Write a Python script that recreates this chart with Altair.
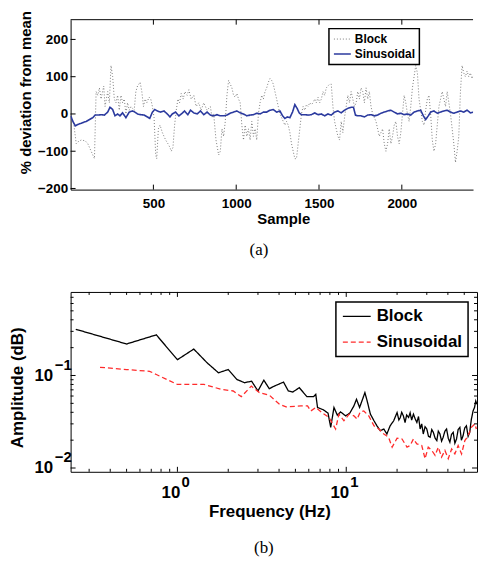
import altair as alt
import pandas as pd

# ---------------- data: panel (a) ----------------
block_a = [(0,0),(20,-30),(34,-80),(44,-75),(64,-70),(88,-72),(104,-80),(124,-100),(144,-120),(154,60),(164,50),(174,70),(184,40),(200,75),(208,20),(224,60),(234,30),(244,130),(254,100),(264,40),(274,30),(284,50),(294,10),(304,50),(314,30),(324,40),(334,0),(344,30),(354,10),(364,20),(384,10),(394,60),(404,75),(420,85),(430,60),(440,20),(450,40),(460,30),(474,45),(484,40),(494,20),(504,-10),(514,-110),(520,-120),(530,-40),(540,-30),(554,-50),(564,-60),(574,-70),(588,-80),(600,-90),(608,-100),(618,-90),(628,-30),(638,10),(648,40),(658,30),(668,55),(680,40),(690,60),(704,50),(714,65),(728,40),(744,50),(758,20),(774,30),(788,10),(804,30),(824,10),(844,20),(854,-10),(864,0),(878,-70),(894,-110),(904,-100),(914,-40),(924,-60),(934,-20),(944,50),(954,90),(964,80),(974,70),(984,50),(994,45),(1004,55),(1014,40),(1024,30),(1034,-30),(1044,-70),(1054,-30),(1064,-60),(1074,-40),(1084,-70),(1094,-20),(1104,-60),(1114,-40),(1124,-70),(1134,0),(1144,30),(1154,50),(1164,40),(1174,60),(1184,70),(1194,85),(1204,95),(1214,90),(1224,80),(1234,60),(1244,40),(1254,20),(1264,0),(1274,-10),(1284,-20),(1294,-30),(1304,-20),(1314,-30),(1324,-50),(1334,-80),(1344,-100),(1354,-120),(1364,-120),(1374,-80),(1384,-40),(1394,0),(1404,20),(1414,10),(1424,25),(1434,20),(1444,30),(1454,25),(1464,30),(1474,40),(1484,30),(1494,45),(1504,30),(1514,40),(1524,60),(1534,50),(1544,70),(1564,80),(1574,80),(1584,20),(1594,-20),(1604,-40),(1614,-60),(1624,-70),(1634,-20),(1644,-50),(1654,-10),(1664,20),(1674,50),(1684,30),(1694,60),(1704,40),(1714,20),(1724,30),(1734,60),(1744,40),(1754,70),(1764,60),(1774,30),(1784,70),(1794,40),(1804,60),(1814,20),(1824,0),(1844,-20),(1854,-40),(1864,-60),(1884,-40),(1894,-80),(1904,-100),(1914,-80),(1924,-40),(1934,-80),(1944,-60),(1954,-30),(1964,-20),(1974,-60),(1984,-80),(1994,-50),(2004,0),(2014,50),(2024,30),(2034,0),(2044,-20),(2054,20),(2064,70),(2074,100),(2084,130),(2094,110),(2104,40),(2114,10),(2124,-20),(2134,-30),(2144,10),(2154,40),(2164,50),(2174,0),(2184,-70),(2194,-100),(2204,-80),(2214,-30),(2224,20),(2234,40),(2244,60),(2254,40),(2264,20),(2274,60),(2284,30),(2294,0),(2304,-40),(2314,-80),(2324,-130),(2334,-100),(2344,-60),(2354,60),(2364,130),(2374,110),(2384,100),(2394,115),(2404,100),(2414,110),(2424,95),(2434,105),(2444,90),(2454,100),(2464,80),(2474,75)]

sin_a = [(0,-5),(14,-20),(28,-32),(44,-28),(64,-25),(80,-22),(94,-20),(114,-15),(134,-10),(148,-3),(164,-3),(184,-2),(204,-3),(224,5),(238,18),(254,12),(268,-5),(284,0),(298,-5),(314,3),(334,-10),(354,5),(374,8),(388,5),(404,0),(424,-2),(444,-3),(464,-8),(478,-12),(494,5),(508,12),(524,8),(544,5),(564,8),(584,0),(600,-8),(614,0),(634,5),(654,-5),(674,2),(688,8),(708,-2),(724,10),(744,3),(764,0),(784,8),(804,-2),(824,5),(844,-3),(864,-5),(884,-2),(904,-5),(924,-5),(944,-3),(964,2),(984,5),(1004,8),(1024,3),(1044,0),(1064,-5),(1084,-3),(1104,-2),(1124,2),(1144,0),(1164,5),(1184,5),(1204,10),(1224,12),(1244,5),(1264,8),(1280,-5),(1294,-12),(1308,-8),(1324,-10),(1340,5),(1354,25),(1368,15),(1380,3),(1394,-2),(1414,-2),(1434,-3),(1454,-2),(1474,3),(1494,-2),(1514,0),(1534,-5),(1554,0),(1574,-3),(1594,5),(1614,8),(1634,3),(1654,10),(1674,15),(1694,18),(1708,18),(1720,-3),(1734,-5),(1754,-5),(1774,-8),(1794,-3),(1814,-2),(1834,-5),(1854,-3),(1874,2),(1894,5),(1914,8),(1934,10),(1954,5),(1974,0),(1994,2),(2014,-2),(2034,0),(2054,-3),(2074,5),(2094,8),(2114,10),(2130,-5),(2144,-15),(2160,-5),(2174,5),(2194,8),(2214,2),(2234,5),(2254,8),(2274,10),(2294,5),(2314,2),(2334,5),(2354,8),(2374,5),(2394,10),(2414,3),(2434,5),(2448,15),(2464,10),(2474,8)]

# ---------------- data: panel (b) ----------------
block_freq = [0.25, 0.5, 0.75, 1.0, 1.25, 1.5, 1.75, 2.0, 2.25, 2.5, 2.75, 3.0, 3.25, 3.5, 3.75, 4.25, 4.54, 4.82, 5.27, 5.85, 6.4, 6.6, 6.76, 7.33, 7.8, 8.09, 8.46, 8.85, 9.26, 9.91, 10.5, 11.1, 11.5, 12.0, 12.9, 13.3, 13.9, 14.6, 15.2, 15.9, 16.7, 17.4, 18.2, 19.1,
              20.0, 20.5, 20.9, 21.3, 21.8, 22.3, 22.8, 23.4, 23.9, 24.4, 25.0, 25.6, 26.2, 26.8, 27.4, 28.0, 28.6, 29.3, 30.0, 30.7, 31.4, 32.1, 32.8, 33.6, 34.4, 35.1, 35.9, 36.7, 37.5, 38.4, 39.3, 40.2, 41.1, 42.0, 43.0, 44.0, 45.0, 46.0, 47.1, 48.1, 49.2, 50.3, 51.5, 52.7, 53.9, 54.5, 55.1, 56.4, 57.5, 58.5, 59.4]
block_amp = [0.316, 0.219, 0.275, 0.148, 0.193, 0.137, 0.107, 0.116, 0.0906, 0.0835, 0.0869, 0.068, 0.089, 0.072, 0.0768, 0.0848, 0.068, 0.0662, 0.0738, 0.0591, 0.0591, 0.0625, 0.0451, 0.0425, 0.0392, 0.0275, 0.0451, 0.0373, 0.0404, 0.0366, 0.0392, 0.0469, 0.0553, 0.0451, 0.0653, 0.0531, 0.0382, 0.0324, 0.0286, 0.0253, 0.0264, 0.0233, 0.0286, 0.0324,
             0.0398, 0.033, 0.0352, 0.040, 0.0366, 0.031, 0.0375, 0.0352, 0.0395, 0.033, 0.0382, 0.034, 0.0311, 0.036, 0.0264, 0.030, 0.0233, 0.028, 0.0264, 0.022, 0.0215, 0.026, 0.0243, 0.021, 0.0198, 0.025, 0.0233, 0.0195, 0.0215, 0.025, 0.0264, 0.021, 0.0190, 0.023, 0.0243, 0.0185, 0.0206, 0.026, 0.0275, 0.020, 0.0223, 0.027, 0.0286, 0.022, 0.0243, 0.029, 0.0337, 0.0414, 0.045, 0.0531, 0.0489]
sin_freq = [0.348, 0.5, 0.685, 0.75, 1.0, 1.44, 1.82, 2.14, 2.39, 2.74, 3.06, 3.51, 4.02, 4.40, 5.39, 5.90, 6.17, 6.60, 7.23, 7.90, 8.65, 9.05, 9.69, 10.4, 11.1, 11.6, 12.1, 12.7, 13.6, 14.6, 15.6, 16.7, 17.8, 18.7, 20.0, 21.4, 22.9, 23.9, 25.0, 26.2, 28.0, 29.3, 30.6, 32.1, 33.6, 35.1, 36.7, 38.4, 40.2, 42.1, 44.0, 46.0, 48.2, 50.4, 52.7, 55.1, 57.7, 59.0]
sin_amp = [0.1227, 0.116, 0.111, 0.1025, 0.080, 0.080, 0.0708, 0.068, 0.0591, 0.0768, 0.0653, 0.0611, 0.0489, 0.0457, 0.0469, 0.0469, 0.0414, 0.0451, 0.0392, 0.0352, 0.0264, 0.0382, 0.0324, 0.0382, 0.0366, 0.0337, 0.0404, 0.0414, 0.0366, 0.0286, 0.0264, 0.0233, 0.0215, 0.0168, 0.0210, 0.0206, 0.0168, 0.0175, 0.0206, 0.0182, 0.0175, 0.0126, 0.0168, 0.0155, 0.0137, 0.0168, 0.0131, 0.0155, 0.0126, 0.0161, 0.0142, 0.0175, 0.0142, 0.0198, 0.0223, 0.0275, 0.0299, 0.0264]

series_names = ["Block", "Sinusoidal"]

# ticks
a_xticks = [500, 1000, 1500, 2000]
a_yticks = [-200, -100, 0, 100, 200]
b_xmajor = [1, 10]
b_xminor = [0.3, 0.4, 0.5, 0.6, 0.7, 0.8, 0.9, 2, 3, 4, 5, 6, 7, 8, 9, 20, 30, 40, 50]
b_ymajor = [0.01, 0.1]
b_yminor = [0.02, 0.03, 0.04, 0.05, 0.06, 0.07, 0.08, 0.09, 0.2, 0.3, 0.4, 0.5, 0.6, 0.7]
b_xexp = ["0", "1"]
b_yexp = ["\u22122", "\u22121"]

FONT = "Liberation Sans"
SERIF = "Liberation Serif"
WA, HA = 405, 171
WB, HB = 409, 181

# ---------------- panel (a) ----------------
df_a = pd.concat([
    pd.DataFrame({"sample": [p[0] for p in block_a], "dev": [p[1] for p in block_a], "series": "Block"}),
    pd.DataFrame({"sample": [p[0] for p in sin_a], "dev": [p[1] for p in sin_a], "series": "Sinusoidal"}),
])

xa = alt.Scale(domain=[0, 2430], nice=False, zero=False)
ya = alt.Scale(domain=[-203, 253], nice=False, zero=False)

ax_xa = alt.Axis(
    values=a_xticks, format="d", title="Sample", ticks=False, tickSize=0, labelPadding=7,
    labelFontSize=13.5, labelFont=FONT, labelFontWeight="bold", labelColor="black",
    titleFontSize=15, titleFont=FONT, titleFontWeight="bold", titleColor="black",
    titleX=214, titleY=29, titleBaseline="middle", titleAlign="center",
    domainColor="black", domainWidth=1, grid=False)
ax_ya = alt.Axis(
    values=a_yticks, format="d", title="% deviation from mean", ticks=False, tickSize=0, labelPadding=3,
    labelFontSize=13.5, labelFont=FONT, labelFontWeight="bold", labelColor="black",
    titleFontSize=15, titleFont=FONT, titleFontWeight="bold", titleColor="black",
    titleX=-45, titleY=73, titleBaseline="middle", titleAlign="center", titleAngle=-90,
    domainColor="black", domainWidth=1, grid=False)

leg_a = alt.Legend(title=None, orient="none", legendX=260, legendY=9, symbolType="stroke",
                   symbolSize=289, symbolStrokeWidth=1.3, labelFontSize=12, labelFont=FONT,
                   labelFontWeight="bold", labelColor="black", padding=4, rowPadding=2,
                   clipHeight=13, labelOffset=3, strokeColor="black", fillColor="white")

lines_a = alt.Chart(df_a).mark_line(clip=True).encode(
    x=alt.X("sample:Q", scale=xa, axis=ax_xa),
    y=alt.Y("dev:Q", scale=ya, axis=ax_ya),
    color=alt.Color("series:N", scale=alt.Scale(domain=series_names, range=["#6e6e6e", "#2b3a9e"]), legend=leg_a),
    strokeDash=alt.StrokeDash("series:N", scale=alt.Scale(domain=series_names, range=[[1, 2], [1, 0]]), legend=leg_a),
    strokeWidth=alt.StrokeWidth("series:N", scale=alt.Scale(domain=series_names, range=[0.9, 1.6]), legend=None),
)

xt_a = alt.Chart(pd.DataFrame({"t": a_xticks}))
yt_a = alt.Chart(pd.DataFrame({"t": a_yticks}))
ticks_a = [
    xt_a.mark_rule(color="black").encode(x=alt.X("t:Q", scale=xa, axis=ax_xa), y=alt.value(HA), y2=alt.value(HA - 5)),
    xt_a.mark_rule(color="black").encode(x=alt.X("t:Q", scale=xa, axis=ax_xa), y=alt.value(0), y2=alt.value(5)),
    yt_a.mark_rule(color="black").encode(y=alt.Y("t:Q", scale=ya, axis=ax_ya), x=alt.value(0), x2=alt.value(5)),
]
top_a = alt.Chart(pd.DataFrame({"t": [0]})).mark_rule(color="black").encode(
    x=alt.value(0), x2=alt.value(WA), y=alt.value(0))

panel_a = alt.layer(lines_a, *ticks_a, top_a).properties(
    width=WA, height=HA,
    title=alt.TitleParams("(a)", orient="bottom", offset=16, font=SERIF, fontSize=17,
                          fontWeight="normal", anchor="middle", frame="group", dx=-13, color="black"),
)

# ---------------- panel (b) ----------------
df_b = pd.concat([
    pd.DataFrame({"freq": block_freq, "amp": block_amp, "series": "Block"}),
    pd.DataFrame({"freq": sin_freq, "amp": sin_amp, "series": "Sinusoidal"}),
])

xb = alt.Scale(type="log", domain=[0.233, 59.5], nice=False)
yb = alt.Scale(type="log", domain=[0.0091, 0.80], nice=False)

ax_xb = alt.Axis(
    values=b_xmajor, labelExpr="'10'", title="Frequency (Hz)", ticks=False, tickSize=0,
    labelPadding=13, labelOffset=-7, labelFontSize=17, labelFont=FONT, labelFontWeight="bold",
    labelColor="black", labelFlush=False, titleFontSize=17, titleFont=FONT, titleFontWeight="bold",
    titleColor="black", titleX=200, titleY=40, titleBaseline="middle", titleAlign="center",
    domain=False, grid=False)
ax_yb = alt.Axis(
    values=b_ymajor, labelExpr="'10'", title="Amplitude (dB)", ticks=False, tickSize=0,
    labelPadding=18, labelFontSize=17, labelFont=FONT, labelFontWeight="bold",
    labelColor="black", labelBaseline="middle", titleFontSize=17, titleFont=FONT,
    titleFontWeight="bold", titleColor="black", titleX=-53, titleY=96,
    titleBaseline="middle", titleAlign="center", titleAngle=-90, domain=False, grid=False)

leg_b = alt.Legend(title=None, orient="none", legendX=267, legendY=10, symbolType="stroke",
                   symbolSize=784, symbolStrokeWidth=1.5, labelFontSize=17, labelFont=FONT,
                   labelFontWeight="bold", labelColor="black", padding=6, rowPadding=8,
                   clipHeight=17, labelOffset=5, strokeColor="black", fillColor="white")

lines_b = alt.Chart(df_b).mark_line(clip=True).encode(
    x=alt.X("freq:Q", scale=xb, axis=ax_xb),
    y=alt.Y("amp:Q", scale=yb, axis=ax_yb),
    color=alt.Color("series:N", scale=alt.Scale(domain=series_names, range=["black", "#ff2b2b"]), legend=leg_b),
    strokeDash=alt.StrokeDash("series:N", scale=alt.Scale(domain=series_names, range=[[1, 0], [5, 3]]), legend=leg_b),
    strokeWidth=alt.StrokeWidth("series:N", scale=alt.Scale(domain=series_names, range=[1.3, 1.3]), legend=None),
)

def xticks_b(vals, ln):
    c = alt.Chart(pd.DataFrame({"t": vals}))
    return [
        c.mark_rule(color="black").encode(x=alt.X("t:Q", scale=xb, axis=ax_xb), y=alt.value(HB), y2=alt.value(HB - ln)),
        c.mark_rule(color="black").encode(x=alt.X("t:Q", scale=xb, axis=ax_xb), y=alt.value(0), y2=alt.value(ln)),
    ]

def yticks_b(vals, ln):
    c = alt.Chart(pd.DataFrame({"t": vals}))
    return [
        c.mark_rule(color="black").encode(y=alt.Y("t:Q", scale=yb, axis=ax_yb), x=alt.value(0), x2=alt.value(ln)),
        c.mark_rule(color="black").encode(y=alt.Y("t:Q", scale=yb, axis=ax_yb), x=alt.value(WB), x2=alt.value(WB - ln)),
    ]

ticks_b = xticks_b(b_xmajor, 5) + xticks_b(b_xminor, 3) + yticks_b(b_ymajor, 5) + yticks_b(b_yminor, 3)

exp_x = alt.Chart(pd.DataFrame({"t": b_xmajor, "e": b_xexp})).mark_text(
    align="left", baseline="middle", dx=4, font=FONT, fontWeight="bold", fontSize=15, color="black"
).encode(x=alt.X("t:Q", scale=xb, axis=ax_xb), y=alt.value(HB + 10), text="e:N")

exp_y = alt.Chart(pd.DataFrame({"t": b_ymajor, "e": b_yexp})).mark_text(
    align="left", baseline="middle", dy=-11, font=FONT, fontWeight="bold", fontSize=15, color="black"
).encode(y=alt.Y("t:Q", scale=yb, axis=ax_yb), x=alt.value(-16), text="e:N")

panel_b = alt.layer(lines_b, *ticks_b, exp_x, exp_y).properties(
    width=WB, height=HB,
    view=alt.ViewBackground(stroke="black", strokeWidth=1),
    title=alt.TitleParams("(b)", orient="bottom", offset=21, font=SERIF, fontSize=17,
                          fontWeight="normal", anchor="middle", frame="group", dx=-10, color="black"),
)

chart = alt.vconcat(panel_a, panel_b, spacing=33).resolve_scale(
    color="independent", strokeDash="independent", strokeWidth="independent"
).properties(
    padding={"left": 0, "top": 0, "right": 0, "bottom": 0}
).configure_view(stroke=None).configure_legend(strokeWidth=1.5)

chart.save("out.html", embed_options={"renderer": "svg", "actions": False})
